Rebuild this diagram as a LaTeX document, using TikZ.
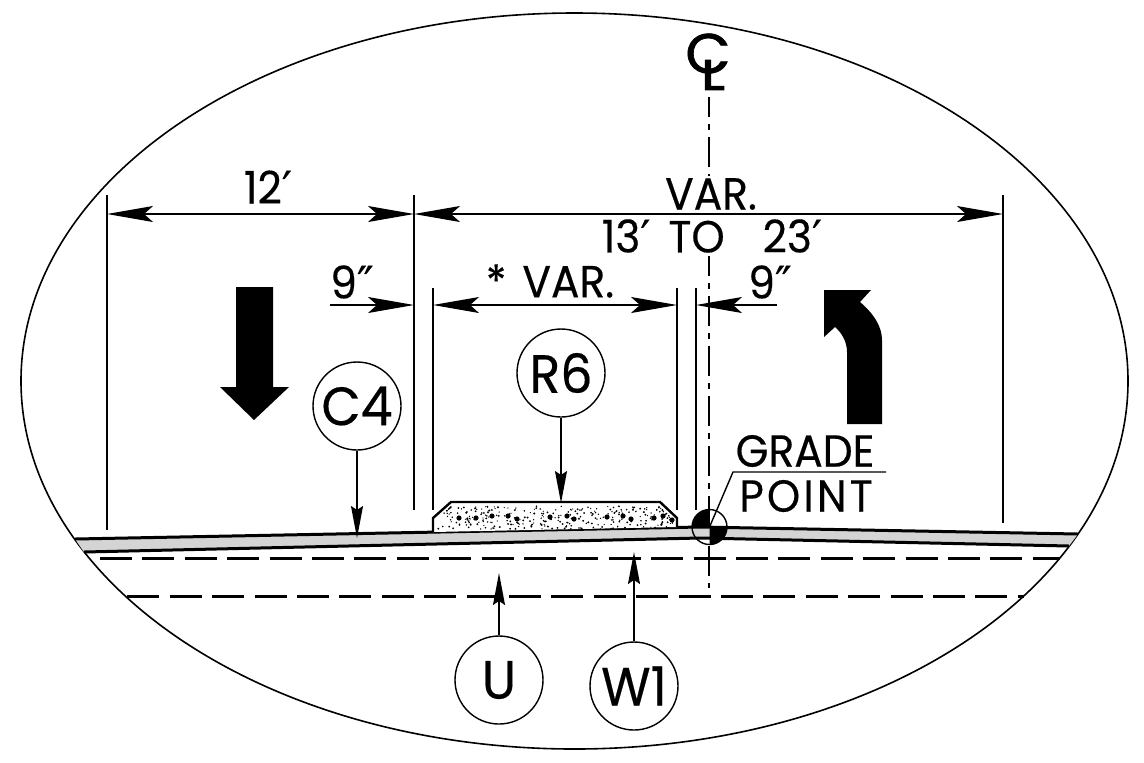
\documentclass[tikz,border=0pt]{standalone}
\usepackage{fontspec}
\setmainfont[FakeStretch=0.94,FakeBold=0.35]{Poppins}
\newfontfamily\primefont[FakeBold=0.2]{DejaVu Sans}
\newcommand{\foot}{{\primefont ′}}
\newcommand{\inch}{{\primefont ″}}
\usetikzlibrary{arrows.meta}
\tikzset{
  thinline/.style={line width=0.7pt},
  roadline/.style={line width=1.5pt},
  dimline/.style={line width=0.6pt,{Stealth[length=23pt,width=8pt,inset=4.5pt]}-{Stealth[length=23pt,width=8pt,inset=4.5pt]}},
  halfdim/.style={line width=0.6pt,-{Stealth[length=23pt,width=8pt,inset=4.5pt]}},
  leader/.style={line width=0.7pt,-{Stealth[length=16pt,width=6pt,inset=2pt]}},
  callout/.style={circle,draw,line width=0.7pt,minimum size=44pt,inner sep=0pt,font=\fontsize{27}{27}\selectfont},
  label/.style={inner sep=0pt,font=\fontsize{22.5}{22.5}\selectfont},
  hidden/.style={line width=1.5pt,dash pattern=on 16pt off 5.2pt},
  center/.style={line width=1pt,dash pattern=on 15pt off 3.5pt on 3pt off 3.5pt,dash phase=5pt}
}
\begin{document}
\begin{tikzpicture}[x=0.5pt,y=-0.5pt]
  \useasboundingbox (0,0) rectangle (1144,762);

  \draw[line width=0.8pt] (574.5,381) ellipse (553.5 and 368);

  \coordinate (roadtl) at (75,539);
  \coordinate (roadtm) at (700,527);
  \coordinate (roadtr) at (1078,534);
  \coordinate (roadbl) at (84,552);
  \coordinate (roadbm) at (700,538);
  \coordinate (roadbr) at (1069,546);

  \draw[center] (709,97) -- (709,176);
  \draw[center] (709,256) -- (709,588);

  \fill[black!17] (roadtl) -- (roadtm) -- (roadtr) -- (roadbr) -- (roadbm) -- (roadbl) -- cycle;
  \draw[roadline] (roadtl) -- (roadtm) -- (roadtr);
  \draw[roadline] (roadbl) -- (roadbm) -- (roadbr);

  \draw[hidden] (100,558) -- (1060,558);
  \draw[hidden,dash phase=20pt] (125,596) -- (1024,596);

  \draw[line width=1.2pt,fill=white] (433,532) -- (433,518) -- (451,502) -- (660,502) -- (677,518) -- (677,527);

  \pgfmathsetseed{61}
  \foreach \i in {1,...,300} {
    \pgfmathsetmacro{\px}{437+236*rnd}
    \pgfmathsetmacro{\py}{506+23*rnd}
    \pgfmathsetmacro{\pr}{0.6+0.5*rnd}
    \ifdim \py pt<518pt
      \pgfmathsetmacro{\pxx}{min(max(\px,452-(\py-506)*1.1),658+(\py-506)*1.1)}
    \else
      \pgfmathsetmacro{\pxx}{\px}
    \fi
    \fill (\pxx,\py) circle (\pr);
  }
  \foreach \px/\py in {459/518,476/518,492/516,508/516,517/519,550/517,567/516,574/519,607/517,623/516,631/519,654/518,663/516,672/520}
    \fill (\px,\py) circle (2.6);

  \draw[thinline] (107,195) -- (107,530);
  \draw[thinline] (414,195) -- (414,510);
  \draw[thinline] (433,288) -- (433,510);
  \draw[thinline] (677,288) -- (677,510);
  \draw[thinline] (696,288) -- (696,510);
  \draw[thinline] (1003,195) -- (1003,523);

  \coordinate (twelvel) at (107,214);
  \coordinate (twelver) at (414,214);
  \coordinate (varr) at (1003,214);
  \coordinate (ninel) at (330,305);
  \coordinate (ninelend) at (414,305);
  \coordinate (varmidl) at (433,305);
  \coordinate (varmidr) at (677,305);
  \coordinate (niner) at (777,305);
  \coordinate (ninerend) at (696,305);

  \draw[dimline] (twelvel) -- (twelver);
  \draw[dimline] (twelver) -- (varr);
  \draw[halfdim] (ninel) -- (ninelend);
  \draw[dimline] (varmidl) -- (varmidr);
  \draw[halfdim] (niner) -- (ninerend);

  \fill (236,287) -- (273,287) -- (273,387) -- (289,387) -- (254,420) -- (220,387) -- (236,387) -- cycle;
  \fill (824,290) -- (871,290) -- (860,302) .. controls (873,313) and (882,326) .. (882,340) -- (882,424) -- (847,424) -- (847,352) .. controls (847,342) and (842,333) .. (835,327) -- (824,337) -- cycle;

  \node[callout] (c4) at (357,406) {C4};
  \node[callout] (r6) at (561,373) {R6};
  \node[callout] (u) at (499,680) {U};
  \node[callout] (w1) at (634,686) {W1};
  \coordinate (c4end) at (357,538);
  \coordinate (r6end) at (561,503);
  \coordinate (uend) at (499,573);
  \coordinate (w1end) at (634,552);
  \draw[leader] (c4) -- (c4end);
  \draw[leader] (r6) -- (r6end);
  \draw[leader] (u) -- (uend);
  \draw[leader] (w1) -- (w1end);

  \coordinate (grade) at (709.5,527);
  \fill (grade) -- (692,527) arc (180:90:17.5 and -17.5) -- cycle;
  \fill (grade) -- (727,527) arc (0:-90:17.5 and -17.5) -- cycle;
  \draw[thinline] (grade) circle (17.5);
  \coordinate (gradeknee) at (733,472);
  \coordinate (gradeend) at (886,472);
  \draw[thinline] (grade) -- (gradeknee) -- (gradeend);

  \node[label] (cletter) at (708,53.5) {\fontsize{28}{28}\selectfont\addfontfeature{FakeBold=1.2,FakeStretch=1.05}C};
  \node[label] (lletter) at (713,75) {\fontsize{21}{21}\selectfont\addfontfeature{FakeBold=3,FakeStretch=1.3}L};
  \node[label] (twelve) at (268,187) {12\foot};
  \node[label] (var) at (711,194) {VAR.};
  \node[label] (range) at (712,236) {13\foot\hspace{9pt}TO\hspace{19pt}23\foot};
  \node[label] (ninea) at (352,282) {9\inch};
  \node[label] (nineb) at (770,282) {9\inch};
  \node[label] (varstar) at (550,281) {*\hspace{8pt}VAR.};
  \node[label] (gradetxt) at (805,451) {GRADE};
  \node[label] (pointtxt) at (806,496) {\addfontfeature{LetterSpace=7}POINT};
\end{tikzpicture}
\end{document}
